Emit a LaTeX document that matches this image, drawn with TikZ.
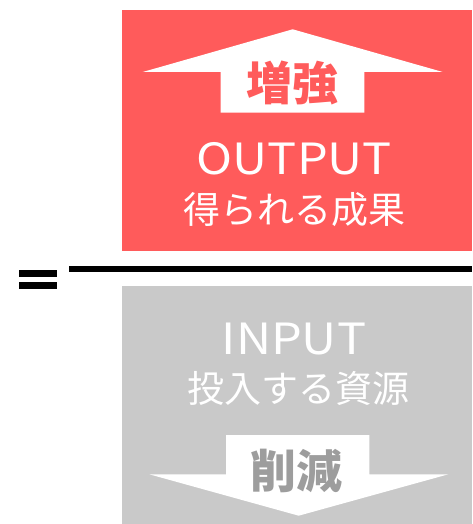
\documentclass[tikz,border=0pt]{standalone}
\usepackage{fontspec}
\setmainfont{Noto Sans CJK JP}
\definecolor{outred}{HTML}{FF5B5B}
\definecolor{ingray}{HTML}{C9C9C9}
\definecolor{gtext}{HTML}{9D9D9D}
\newcommand{\widelatin}[1]{\scalebox{1.13}[1]{#1}}
\tikzset{
  bigarrow/.style={fill=white,draw=none},
  latin/.style={text=white,inner sep=0pt,font=\fontsize{43}{43}\selectfont},
  jptext/.style={text=white,inner sep=0pt,font=\fontsize{37}{37}\selectfont},
  tag/.style={inner sep=0pt,font=\fontsize{46}{46}\selectfont\bfseries},
}
\begin{document}
\begin{tikzpicture}[x=1pt,y=-1pt]
\useasboundingbox (0,0) rectangle (472,524);
% panels
\fill[outred] (121.5,10.5) rectangle (472,250.5);
\fill[ingray] (121.5,286) rectangle (472,524);
% up arrow
\fill[bigarrow] (292.7,29.3) -- (442.7,72) -- (364.3,72) -- (364.3,112.7) -- (220.7,112.7) -- (220.7,72) -- (142.7,72) -- cycle;
% down arrow
\fill[bigarrow] (226,435) -- (369.3,435) -- (369.3,474.3) -- (448.3,474.3) -- (298.7,515.7) -- (149.3,474.3) -- (226,474.3) -- cycle;
% fraction line and equals
\coordinate (l1) at (69,269);
\coordinate (l2) at (472,269);
\draw[line width=5.5pt] (l1) -- (l2);
\fill (19,270.3) rectangle (57.3,276.7);
\fill (19,282) rectangle (57.3,288.7);
% texts
\node[tag,text=outred] (up) at (292.7,82.5) {増強};
\node[latin] (out) at (294.4,158.4) {\widelatin{OUTPUT}};
\node[jptext] (outjp) at (294,210) {得られる成果};
\node[latin] (in) at (294,339) {\widelatin{INPUT}};
\node[jptext] (injp) at (298,388) {投入する資源};
\node[tag,text=gtext] (down) at (296,471) {削減};
\end{tikzpicture}
\end{document}
